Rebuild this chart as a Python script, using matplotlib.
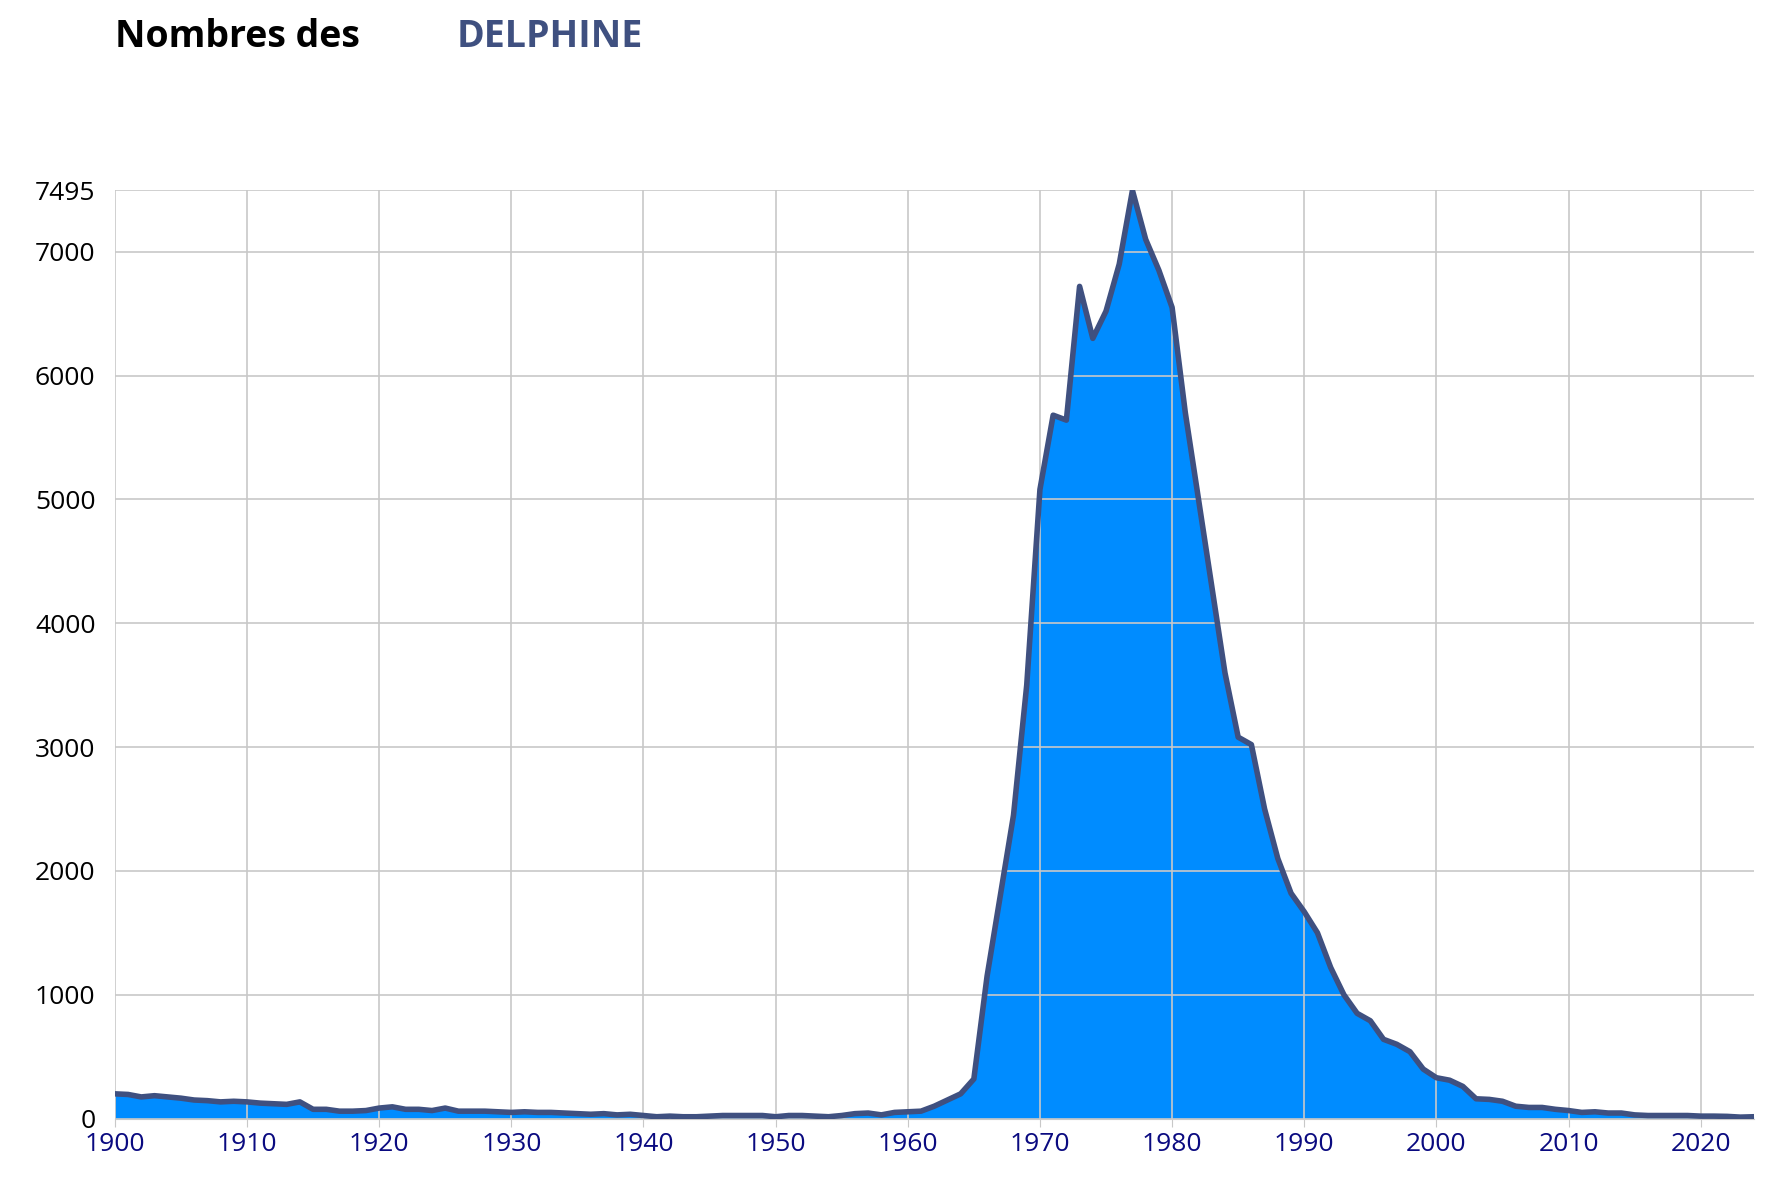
import numpy as np
import matplotlib
matplotlib.use('Agg')
from matplotlib import pyplot as plt

plt.rcParams['font.family'] = ['Open Sans', 'DejaVu Sans']

years = list(range(1900, 2025))
counts = [
    # 1900-1909
    200, 195, 175, 185, 175, 165, 150, 145, 135, 140,
    # 1910-1919
    135, 125, 120, 115, 135, 75, 75, 60, 60, 65,
    # 1920-1929
    85, 95, 75, 75, 65, 85, 60, 60, 60, 55,
    # 1930-1939
    50, 55, 50, 50, 45, 40, 35, 40, 30, 35,
    # 1940-1949
    25, 15, 20, 15, 15, 20, 25, 25, 25, 25,
    # 1950-1959
    15, 25, 25, 20, 15, 25, 40, 45, 30, 50,
    # 1960-1969
    55, 60, 100, 150, 200, 320, 1150, 1800, 2450, 3500,
    # 1970-1979
    5080, 5680, 5640, 6720, 6300, 6520, 6900, 7495, 7100, 6850,
    # 1980-1989
    6550, 5700, 5000, 4300, 3600, 3080, 3020, 2500, 2100, 1820,
    # 1990-1999
    1670, 1500, 1220, 1000, 850, 790, 640, 600, 540, 400,
    # 2000-2009
    330, 310, 260, 160, 155, 140, 100, 90, 90, 75,
    # 2010-2019
    65, 50, 55, 45, 45, 30, 25, 25, 25, 25,
    # 2020-2024
    20, 20, 18, 12, 15,
]
y_ticks = [0, 1000, 2000, 3000, 4000, 5000, 6000, 7000, 7495]
x_ticks = list(range(1900, 2030, 10))

fig = plt.figure(figsize=(17.8, 11.9), dpi=100)
ax = fig.add_axes([100 / 1550, 1 - 987 / 1050, 1427 / 1550, (987 - 168) / 1050])

ax.fill_between(years, counts, color='#008cff', zorder=1, linewidth=0)
ax.grid(True, color='#c8c8c8', linewidth=1.2, zorder=2)
ax.plot(years, counts, color='#3f5080', linewidth=4, zorder=3,
        solid_joinstyle='round')
ax.set_axisbelow(False)

ax.set_xlim(1900, 2024)
ax.set_ylim(0, max(counts))
ax.set_yticks(y_ticks)
ax.set_xticks(x_ticks)
ax.tick_params(axis='y', labelsize=19, length=0, pad=14)
ax.tick_params(axis='x', labelsize=19, labelcolor='#0a0a80', length=6,
               color='#c8c8c8', pad=4)
for s in ['top', 'right', 'left']:
    ax.spines[s].set_visible(False)
ax.spines['bottom'].set_color('#c8c8c8')

fig.text(100 / 1550, 1 - 33 / 1050, 'Nombres des', fontsize=27,
         fontweight='bold', va='center', ha='left')
fig.text(398 / 1550, 1 - 33 / 1050, 'DELPHINE', fontsize=27,
         fontweight='bold', va='center', ha='left', color='#3f5080')

fig.savefig('out.png')
